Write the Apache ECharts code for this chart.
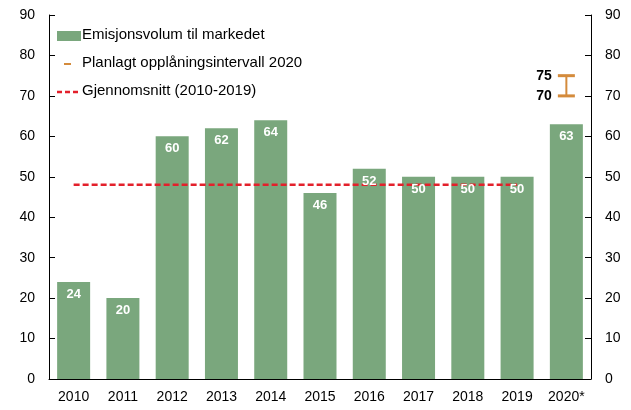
<!DOCTYPE html>
<html>
<head>
<meta charset="utf-8">
<script src="https://cdn.jsdelivr.net/npm/echarts@6/dist/echarts.min.js"></script>
<style>
  html, body { margin: 0; padding: 0; background: #fff; }
  #chart { width: 631px; height: 410px; }
</style>
</head>
<body>
<div id="chart"></div>
<script>
var years = ['2010', '2011', '2012', '2013', '2014', '2015', '2016', '2017', '2018', '2019', '2020*'];
var volume = [24, 20, 60, 62, 64, 46, 52, 50, 50, 50, 63];
var average = [48, 48, 48, 48, 48, 48, 48, 48, 48, 48, null];
var planRange = [['2020*', 70, 75]];
var legendNames = ['Emisjonsvolum til markedet', 'Planlagt opplåningsintervall 2020', 'Gjennomsnitt (2010-2019)'];
var yTicks = { min: 0, max: 90, interval: 10 };

var green = '#7aa77d';
var orange = '#d48b3c';
var red = '#e3202b';
var font = 'Liberation Sans, Arial, sans-serif';

var chart = echarts.init(document.getElementById('chart'));

var yAxisBase = {
    type: 'value',
    min: yTicks.min,
    max: yTicks.max,
    interval: yTicks.interval,
    axisLine: { show: true, lineStyle: { color: '#000', width: 1 } },
    axisTick: { show: true, inside: true, length: 6, lineStyle: { color: '#000' } },
    splitLine: { show: false },
    axisLabel: { color: '#000', fontSize: 14, fontFamily: font, margin: 14 }
};

// legend drawn by hand (icons differ per item)
var legendText = function (y, txt) {
    return { type: 'text', left: 82, top: y - 9, style: { text: txt, fill: '#000', font: '15px ' + font } };
};

var option = {
    animation: false,
    grid: { left: 49, right: 40, top: 15, bottom: 31, containLabel: false },
    graphic: [
        { type: 'rect', shape: { x: 57, y: 31, width: 24, height: 10 }, style: { fill: green } },
        legendText(36, legendNames[0]),
        { type: 'rect', shape: { x: 64, y: 63, width: 7, height: 2 }, style: { fill: orange } },
        legendText(64, legendNames[1]),
        { type: 'line', shape: { x1: 57, y1: 92, x2: 81, y2: 92 }, style: { stroke: red, lineWidth: 2.5, lineDash: [5, 3] } },
        legendText(92, legendNames[2])
    ],
    xAxis: {
        type: 'category',
        data: years,
        axisLine: { show: true, lineStyle: { color: '#000' } },
        axisTick: { show: false },
        axisLabel: { color: '#000', fontSize: 14, fontFamily: font, margin: 11 }
    },
    yAxis: [
        Object.assign({}, yAxisBase, { position: 'left' }),
        Object.assign({}, yAxisBase, { position: 'right' })
    ],
    series: [
        {
            name: legendNames[0],
            type: 'bar',
            data: volume,
            barWidth: 33,
            itemStyle: { color: green },
            z: 2
        },
        {
            name: legendNames[2],
            type: 'line',
            data: average,
            symbol: 'none',
            z: 3,
            itemStyle: { color: red },
            lineStyle: { color: red, width: 2.5, type: [6, 3] }
        },
        {
            // value labels, above the average line
            name: 'labels',
            type: 'bar',
            data: volume,
            barWidth: 33,
            barGap: '-100%',
            silent: true,
            z: 5,
            itemStyle: { color: 'rgba(0,0,0,0)' },
            label: {
                show: true,
                position: 'insideTop',
                distance: 6,
                color: '#fff',
                fontWeight: 'bold',
                fontSize: 13,
                fontFamily: font
            }
        },
        {
            name: legendNames[1],
            type: 'custom',
            data: planRange,
            itemStyle: { color: orange },
            z: 4,
            encode: { x: 0, y: [1, 2] },
            renderItem: function (params, api) {
                var lo = api.coord([api.value(0), api.value(1)]);
                var hi = api.coord([api.value(0), api.value(2)]);
                var x = lo[0];
                var half = 8.5;
                var style = { fill: orange };
                return {
                    type: 'group',
                    children: [
                        { type: 'rect', shape: { x: x - half, y: hi[1] - 1.5, width: half * 2, height: 3 }, style: style },
                        { type: 'rect', shape: { x: x - half, y: lo[1] - 1.5, width: half * 2, height: 3 }, style: style },
                        { type: 'rect', shape: { x: x - 1, y: hi[1], width: 2, height: lo[1] - hi[1] }, style: style },
                        { type: 'text', style: { x: x - half - 6, y: hi[1], text: String(api.value(2)), fill: '#000', font: 'bold 14px ' + font, textAlign: 'right', textVerticalAlign: 'middle' } },
                        { type: 'text', style: { x: x - half - 6, y: lo[1], text: String(api.value(1)), fill: '#000', font: 'bold 14px ' + font, textAlign: 'right', textVerticalAlign: 'middle' } }
                    ]
                };
            }
        }
    ]
};

chart.setOption(option);
</script>
</body>
</html>
